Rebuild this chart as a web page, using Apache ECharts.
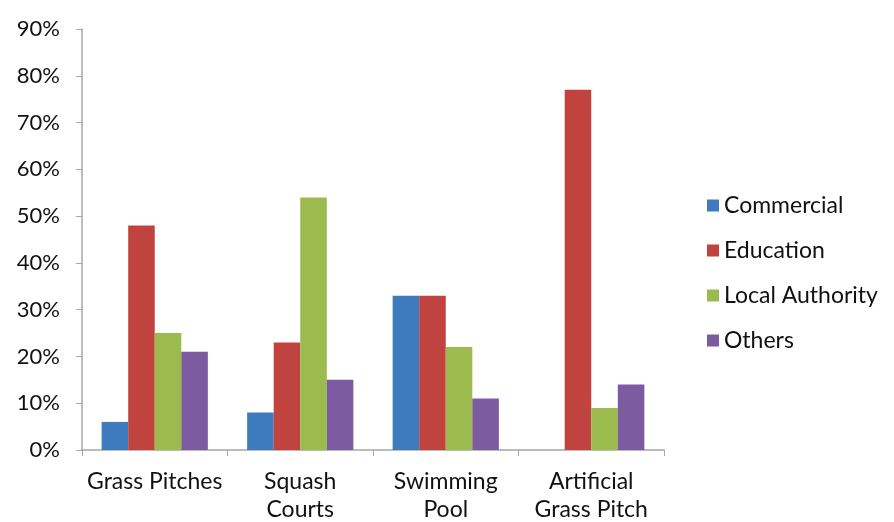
<!DOCTYPE html>
<html><head><meta charset="utf-8">
<script src="https://cdn.jsdelivr.net/npm/echarts@6/dist/echarts.min.js"></script>
<style>html,body{margin:0;padding:0;background:#fff}#c{width:894px;height:522px}</style>
</head><body><div id="c"></div>
<script>
const categories = ['Grass Pitches', 'Squash\nCourts', 'Swimming\nPool', 'Artificial\nGrass Pitch'];
const commercial = [6, 8, 33, 0];
const education = [48, 23, 33, 77];
const localAuthority = [25, 54, 22, 9];
const others = [21, 15, 11, 14];
const seriesNames = ['Commercial', 'Education', 'Local Authority', 'Others'];
const colors = ['#3E7BBE', '#C0433F', '#9BBB4F', '#7D5BA0'];
const font = 'Lato, "Open Sans", sans-serif';

const chart = echarts.init(document.getElementById('c'), null, {renderer: 'canvas'});
const dataSets = [commercial, education, localAuthority, others];
chart.setOption({
  animation: false,
  color: colors,
  grid: {left: 82, top: 29, right: 230, bottom: 72, containLabel: false, outerBoundsMode: 'none'},
  legend: {
    orient: 'vertical', left: 702, top: 189,
    itemWidth: 12, itemHeight: 12, itemGap: 22,
    icon: 'rect',
    textStyle: {fontFamily: font, fontSize: 23, color: '#111', padding: [0, 0, 0, 0]},
    data: seriesNames
  },
  xAxis: {
    type: 'category', data: categories,
    axisLine: {lineStyle: {color: '#a6a6a6', width: 1.5}},
    axisTick: {show: true, length: 6, lineStyle: {color: '#a6a6a6'}},
    axisLabel: {fontFamily: font, fontSize: 23, color: '#111', margin: 18, lineHeight: 28, interval: 0}
  },
  yAxis: {
    type: 'value', min: 0, max: 90, interval: 10,
    axisLine: {show: true, lineStyle: {color: '#a6a6a6', width: 1.5}},
    axisTick: {show: true, length: 6, lineStyle: {color: '#a6a6a6'}},
    splitLine: {show: false},
    axisLabel: {fontFamily: font, fontSize: 22, color: '#111', margin: 22, formatter: '{value}%'}
  },
  series: seriesNames.map((n, i) => ({
    name: n, type: 'bar', data: dataSets[i],
    barGap: '0%', barCategoryGap: '27%'
  }))
});
</script></body></html>
